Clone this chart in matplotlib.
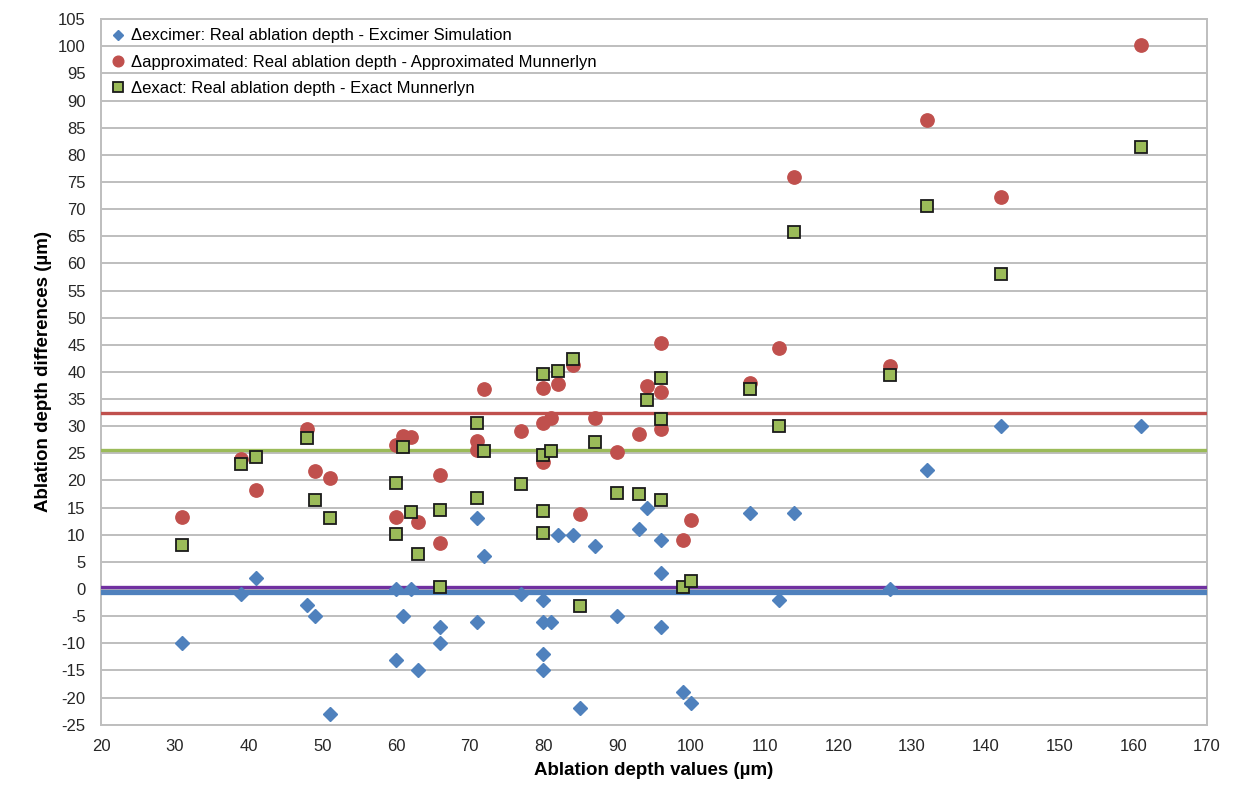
import matplotlib
matplotlib.use("Agg")
import matplotlib.pyplot as plt
import numpy as np

plt.rcParams['font.family'] = ['Liberation Sans', 'DejaVu Sans']
plt.rcParams['axes.unicode_minus'] = False

# ablation depth values (µm) and differences per method
x_excimer = [31, 39, 41, 48, 49, 51, 60, 60, 61, 62, 63, 66, 66, 71, 71, 72, 77,
             80, 80, 80, 80, 81, 82, 84, 85, 87, 90, 93, 94, 96, 96, 96, 99, 100,
             108, 112, 114, 127, 132, 142, 161]
d_excimer = [-10, -1, 2, -3, -5, -23, 0, -13, -5, 0, -15, -7, -10, 13, -6, 6, -1,
             -2, -6, -12, -15, -6, 10, 10, -22, 8, -5, 11, 15, 9, 3, -7, -19, -21,
             14, -2, 14, 0, 22, 30, 30]

x_approx = [31, 39, 41, 48, 49, 51, 60, 60, 61, 62, 63, 66, 66, 71, 71, 72, 77,
            80, 80, 80, 81, 82, 84, 85, 87, 90, 93, 94, 96, 96, 96, 99, 100,
            108, 112, 114, 127, 132, 142, 161]
d_approx = [13.3, 23.9, 18.2, 29.4, 21.8, 20.5, 26.5, 13.2, 28.2, 28.0, 12.4, 21.0,
            8.4, 27.3, 25.6, 36.8, 29.2, 37.1, 30.6, 23.4, 31.5, 37.7, 41.2, 13.8,
            31.6, 25.2, 28.5, 37.4, 45.4, 36.3, 29.4, 9.0, 12.8, 37.9, 44.5, 75.9,
            41.1, 86.4, 72.2, 100.2]

x_exact = [31, 39, 41, 48, 49, 51, 60, 60, 61, 62, 63, 66, 66, 71, 71, 72, 77,
           80, 80, 80, 80, 81, 82, 84, 85, 87, 90, 93, 94, 96, 96, 96, 99, 100,
           108, 112, 114, 127, 132, 142, 161]
d_exact = [8.2, 23.0, 24.4, 27.9, 16.4, 13.0, 19.6, 10.1, 26.2, 14.2, 6.4, 14.5,
           0.3, 30.6, 16.8, 25.5, 19.4, 39.7, 24.7, 14.4, 10.3, 25.5, 40.2, 42.3,
           -3.1, 27.1, 17.7, 17.5, 34.8, 38.9, 31.3, 16.4, 0.4, 1.5, 36.8, 30.0,
           65.7, 39.4, 70.5, 58.1, 81.4]

# reference levels
level_approx = 32.5
level_exact = 25.7
level_purple = 0.35
level_excimer = -0.55

blue = '#4F81BD'
red = '#C0504D'
green = '#9BBB59'
purple = '#7030A0'
grid_gray = '#BEBEBE'

fig = plt.figure(figsize=(12.35, 7.99), dpi=100)
ax = fig.add_axes([0.0818, 0.093, 0.8955, 0.883])

ax.axhline(level_excimer, color=blue, lw=3.8, zorder=3)
ax.axhline(level_purple, color=purple, lw=2.4, zorder=3)
ax.axhline(level_exact, color=green, lw=2.4, zorder=3)
ax.axhline(level_approx, color=red, lw=2.4, zorder=3)

ax.plot(x_excimer, d_excimer, 'D', ms=6.8, color=blue, mec=blue, zorder=4,
        label='\u0394excimer: Real ablation depth - Excimer Simulation')
ax.plot(x_approx, d_approx, 'o', ms=9.6, color=red, mec=red, zorder=5,
        label='\u0394approximated: Real ablation depth - Approximated Munnerlyn')
ax.plot(x_exact, d_exact, 's', ms=8.8, color=green, mec='#1a1a1a', mew=1.3, zorder=6,
        label='\u0394exact: Real ablation depth - Exact Munnerlyn')

ax.set_xlim(20, 170)
ax.set_ylim(-25, 105)
ax.set_xticks(np.arange(20, 171, 10))
ax.set_yticks(np.arange(-25, 106, 5))
ax.tick_params(length=0, labelsize=12, colors='#262626')
ax.tick_params(axis='x', pad=10)
ax.tick_params(axis='y', pad=11)
ax.yaxis.grid(True, color=grid_gray, lw=1.4)
ax.set_axisbelow(True)
for sp in ax.spines.values():
    sp.set_color(grid_gray)
    sp.set_linewidth(1.4)

ax.set_xlabel('Ablation depth values (\u00b5m)', fontsize=13.5, fontweight='bold', labelpad=6)
ax.set_ylabel('Ablation depth differences (\u00b5m)', fontsize=13.5, fontweight='bold', labelpad=4)

leg = ax.legend(loc='upper left', frameon=False, fontsize=12, handletextpad=0.35,
                labelspacing=0.68, borderaxespad=0.25, handlelength=0.9,
                borderpad=0.3, numpoints=1, markerscale=0.8)

fig.savefig('out.png', dpi=100)
